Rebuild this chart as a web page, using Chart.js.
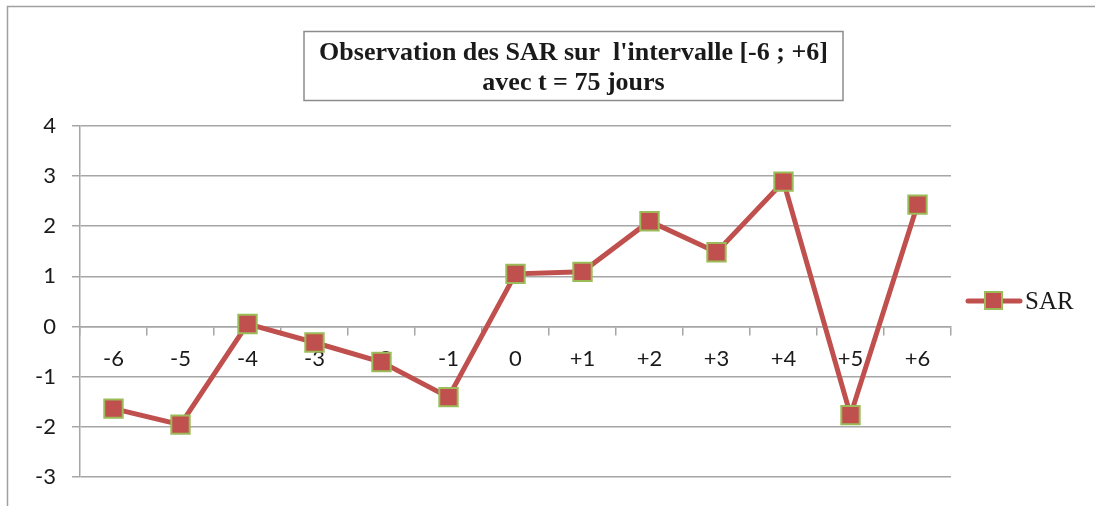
<!DOCTYPE html>
<html><head><meta charset="utf-8">
<script src="https://cdn.jsdelivr.net/npm/chart.js@4/dist/chart.umd.min.js"></script>
<style>html,body{margin:0;padding:0;background:#fff;}#wrap{width:1095px;height:506px;position:relative;}</style>
</head><body><div id="wrap"><canvas id="c" width="1095" height="506"></canvas></div>
<script>
const categories = ["-6","-5","-4","-3","-2","-1","0","+1","+2","+3","+4","+5","+6"];
const sarValues = [-1.64,-1.96,0.05,-0.32,-0.71,-1.41,1.05,1.09,2.10,1.48,2.89,-1.77,2.43];
const seriesName = "SAR";
const titleLines = ["Observation des SAR sur  l'intervalle [-6 ; +6]","avec t = 75 jours"];
const yMin = -3, yMax = 4;

const RED = '#c0504d', GREEN = '#9bbb59', GRID = '#a6a6a6';

const decor = {
  id:'decor',
  beforeDraw(chart){
    const ctx = chart.ctx;
    ctx.save();
    ctx.fillStyle='#fff'; ctx.fillRect(0,0,chart.width,chart.height);
    ctx.strokeStyle='#a0a0a0'; ctx.lineWidth=1.5;
    ctx.strokeRect(7.5,6.5,1200,600);
    ctx.restore();
  },
  afterDraw(chart){
    const ctx = chart.ctx;
    ctx.save();
    // title box
    ctx.strokeStyle='#8c8c8c'; ctx.lineWidth=1.5;
    ctx.strokeRect(304,31.5,539,69);
    ctx.fillStyle='#1a1a1a';
    ctx.font='bold 26px "Liberation Serif"';
    ctx.textAlign='center'; ctx.textBaseline='middle';
    ctx.fillText(titleLines[0],573.5,53);
    ctx.fillText(titleLines[1],573.5,83);
    // legend
    const ds = chart.data.datasets[0];
    const ly = 301;
    ctx.strokeStyle=ds.borderColor; ctx.lineWidth=5; ctx.lineCap='round';
    ctx.beginPath(); ctx.moveTo(968,ly); ctx.lineTo(1020,ly); ctx.stroke();
    ctx.fillStyle=ds.pointBackgroundColor; ctx.fillRect(985,ly-9,17,17);
    ctx.strokeStyle=ds.pointBorderColor; ctx.lineWidth=2; ctx.strokeRect(985,ly-9,17,17);
    ctx.fillStyle='#1a1a1a'; ctx.font='25px "Liberation Serif"';
    ctx.textAlign='left'; ctx.textBaseline='middle';
    ctx.fillText(ds.label,1025,ly+1);
    ctx.restore();
  }
};

new Chart(document.getElementById('c'),{
  type:'line',
  data:{labels:categories,datasets:[{
    label:seriesName,data:sarValues,
    borderColor:RED,borderWidth:5,
    pointStyle:'rect',pointRadius:13,pointHoverRadius:13,
    pointBackgroundColor:RED,pointBorderColor:GREEN,pointBorderWidth:2,
    tension:0
  }]},
  options:{
    responsive:false,animation:false,
    layout:{padding:{left:0,top:126,right:144,bottom:28}},
    plugins:{legend:{display:false},title:{display:false},tooltip:{enabled:false}},
    scales:{
      x:{
        position:{y:0},offset:true,
        grid:{offset:true,drawOnChartArea:false,drawTicks:true,tickLength:8,color:GRID,lineWidth:1.5},
        border:{display:true,color:GRID,width:1.5},
        ticks:{color:'#1a1a1a',font:{family:'Lato',size:22},padding:11,maxRotation:0,autoSkip:false}
      },
      y:{
        min:yMin,max:yMax,
        afterFit(s){s.width=80;},
        grid:{color:GRID,lineWidth:1.5,tickLength:8,drawTicks:true},
        border:{display:true,color:GRID,width:1.5},
        ticks:{stepSize:1,color:'#1a1a1a',font:{family:'Lato',size:22},padding:16}
      }
    }
  },
  plugins:[decor]
});
</script></body></html>
